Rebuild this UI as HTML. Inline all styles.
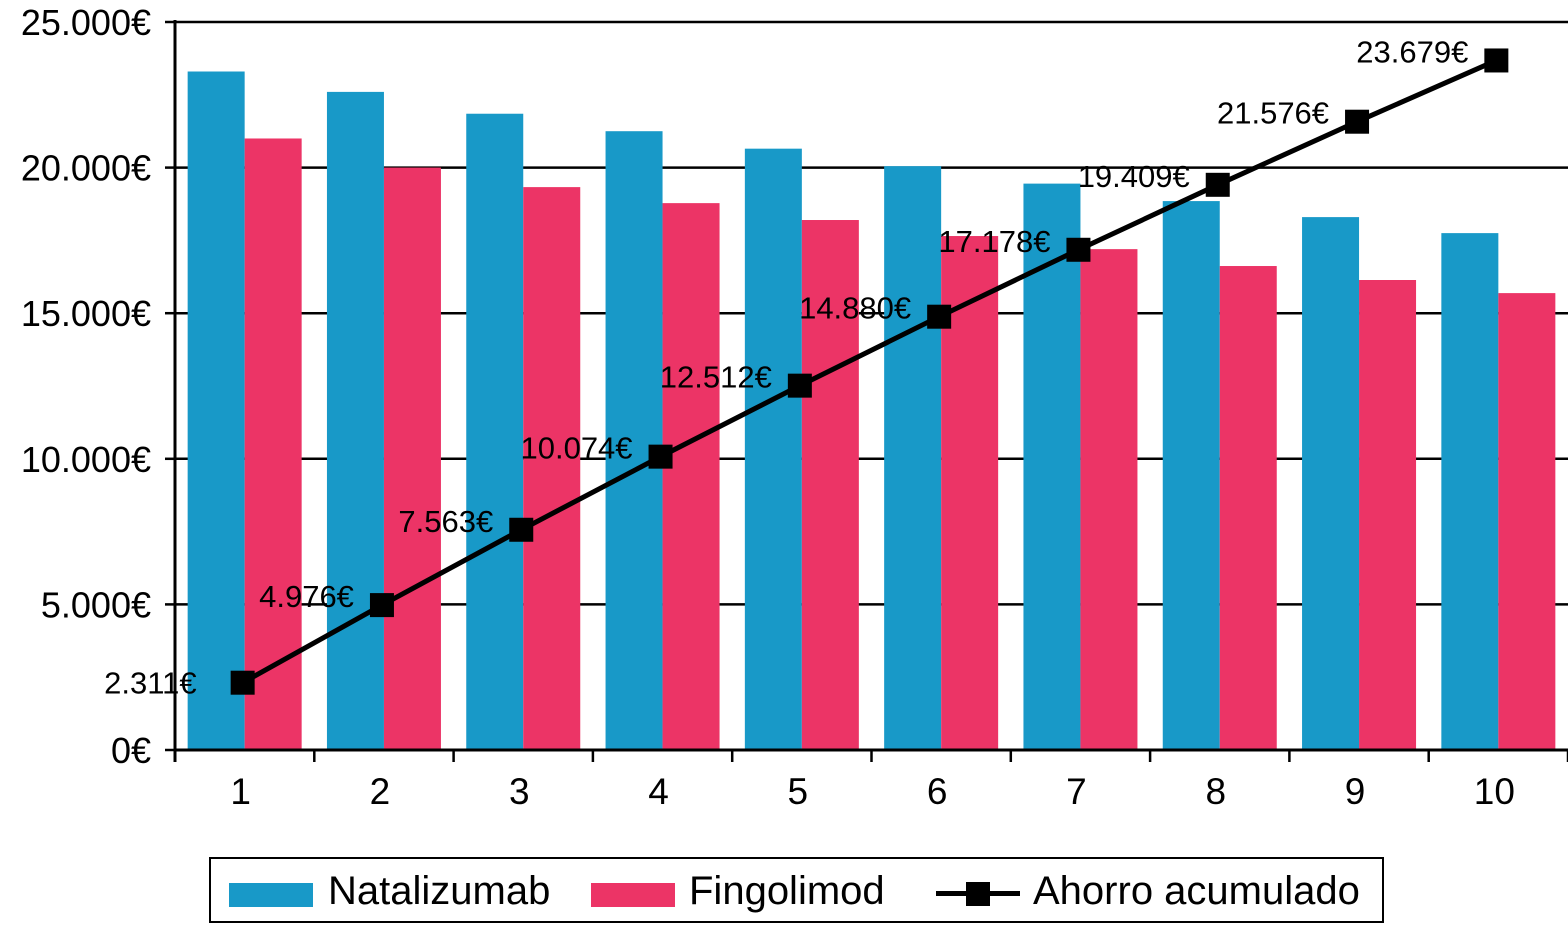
<!DOCTYPE html>
<html><head><meta charset="utf-8"><style>
body{margin:0;background:#fff;}
svg{display:block;font-family:"Liberation Sans",Arial,sans-serif;}
</style></head><body>
<svg id="chart" width="1568" height="925"></svg>
<script>
const categories=["1","2","3","4","5","6","7","8","9","10"];
const natalizumab=[23300,22600,21850,21250,20650,20050,19450,18850,18300,17750];
const fingolimod=[21000,20000,19330,18780,18200,17650,17200,16620,16140,15690];
const ahorro=[2311,4976,7563,10074,12512,14880,17178,19409,21576,23679];
const ahorroLabels=["2.311€","4.976€","7.563€","10.074€","12.512€","14.880€","17.178€","19.409€","21.576€","23.679€"];
const yTicks=[0,5000,10000,15000,20000,25000];
const yTickLabels=["0€","5.000€","10.000€","15.000€","20.000€","25.000€"];

const NS="http://www.w3.org/2000/svg";
const svg=document.getElementById('chart');
const X0=175,X1=1568,Y0=750,Y1=22,YMAX=25000;
const cw=(X1-X0)/categories.length;
const y=v=>Y0-(v/YMAX)*(Y0-Y1);
const xc=i=>X0+cw*(i+0.5);
function mk(t,a){const e=document.createElementNS(NS,t);for(const k in a)e.setAttribute(k,a[k]);svg.appendChild(e);return e;}

yTicks.forEach((t,i)=>{
 if(t>0){const g=mk('line',{x1:X0,x2:X1,y1:y(t),y2:y(t),stroke:'#000','stroke-width':2.5});
 
 }
 const tk=mk('line',{x1:X0-10,x2:X0,y1:y(t),y2:y(t),stroke:'#000','stroke-width':2.5});
 
 
 const l=mk('text',{x:X0-24,y:y(t)+13,'text-anchor':'end','font-size':36});
 l.textContent=yTickLabels[i];
 
 
});
const bw=57;
categories.forEach((c,i)=>{
 const b1=mk('rect',{x:xc(i)-bw,y:y(natalizumab[i]),width:bw,height:Y0-y(natalizumab[i]),fill:'#1899c8'});
 
 
 const b2=mk('rect',{x:xc(i),y:y(fingolimod[i]),width:bw,height:Y0-y(fingolimod[i]),fill:'#ec3466'});
 
 
 const l=mk('text',{x:xc(i)-4,y:804,'text-anchor':'middle','font-size':37});
 l.textContent=c;
 
 
});
for(let i=0;i<=categories.length;i++){
 const t=mk('line',{x1:X0+cw*i,x2:X0+cw*i,y1:Y0,y2:Y0+12,stroke:'#000','stroke-width':2.5});
 
 
}
const ax=mk('line',{x1:X0,x2:X1,y1:Y0,y2:Y0,stroke:'#000','stroke-width':3});


const ay=mk('line',{x1:X0,x2:X0,y1:Y1-2,y2:Y0+12,stroke:'#000','stroke-width':3});


const pl=mk('polyline',{points:ahorro.map((v,i)=>(xc(i)-2)+','+y(v)).join(' '),fill:'none',stroke:'#000','stroke-width':5});


ahorro.forEach((v,i)=>{
 const m=mk('rect',{x:xc(i)-2-12,y:y(v)-12,width:24,height:24,fill:'#000'});
 
 
 const first=i===0;
 const l=mk('text',{x:first?xc(i)-48:xc(i)-30,y:first?y(v)+11:y(v)+2,'text-anchor':'end','font-size':31});
 l.textContent=ahorroLabels[i];
 
 
});
</script>
<div style="position:absolute;left:209px;top:857px;width:1171px;height:62px;border:2.5px solid #000;box-sizing:content-box;font-family:'Liberation Sans',Arial,sans-serif;font-size:40px;">
 <div style="position:absolute;left:18px;top:24px;width:84px;height:24px;background:#1899c8"></div>
 <div style="position:absolute;left:117px;top:10px;">Natalizumab</div>
 <div style="position:absolute;left:380px;top:24px;width:84px;height:24px;background:#ec3466"></div>
 <div style="position:absolute;left:478px;top:10px;">Fingolimod</div>
 <div style="position:absolute;left:725px;top:32px;width:84px;height:5px;background:#000"></div>
 <div style="position:absolute;left:755px;top:23px;width:24px;height:24px;background:#000"></div>
 <div style="position:absolute;left:822px;top:10px;">Ahorro acumulado</div>
</div>
</body></html>
